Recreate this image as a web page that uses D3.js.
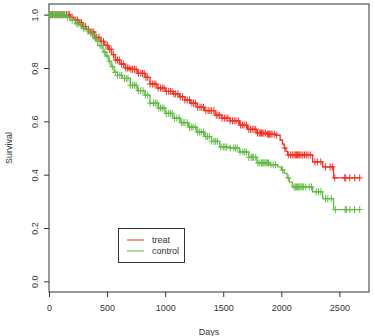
<!DOCTYPE html>
<html>
<head>
<meta charset="utf-8">
<script src="https://cdn.jsdelivr.net/npm/d3@7"></script>
<style>
  body { margin: 0; background: #fff; }
  text { font-family: "Liberation Sans", Arial, sans-serif; fill: #333; }
</style>
</head>
<body>
<script>
'use strict';

// treat: step times (days) and survival after each step
const treatTimes = [0, 185, 215, 250, 290, 320, 355, 395, 440, 475, 510, 540, 570, 610, 655, 700, 760, 830, 870, 930, 1000, 1070, 1120, 1170, 1220, 1275, 1340, 1430, 1490, 1560, 1640, 1710, 1790, 1870, 1945, 1990, 2010, 2025, 2040, 2055, 2270, 2356, 2450];
const treatSurv = [1.0, 0.99, 0.98, 0.97, 0.955, 0.945, 0.935, 0.915, 0.9, 0.885, 0.87, 0.85, 0.83, 0.815, 0.8, 0.795, 0.78, 0.765, 0.74, 0.725, 0.712, 0.703, 0.692, 0.68, 0.668, 0.653, 0.64, 0.623, 0.612, 0.602, 0.586, 0.57, 0.556, 0.552, 0.548, 0.53, 0.515, 0.5, 0.487, 0.474, 0.448, 0.429, 0.388];
const treatCensor = [10, 20, 30, 45, 60, 70, 85, 95, 110, 120, 135, 150, 165, 175, 200, 230, 245, 265, 280, 300, 315, 340, 370, 385, 410, 430, 450, 470, 490, 505, 520, 535, 555, 575, 590, 605, 625, 640, 660, 675, 690, 705, 720, 735, 750, 770, 790, 805, 820, 835, 850, 870, 890, 905, 920, 940, 960, 975, 990, 1010, 1030, 1045, 1060, 1075, 1090, 1110, 1130, 1150, 1170, 1190, 1210, 1230, 1245, 1260, 1280, 1300, 1315, 1330, 1350, 1370, 1385, 1400, 1420, 1440, 1455, 1470, 1490, 1510, 1525, 1540, 1560, 1580, 1595, 1610, 1630, 1650, 1665, 1680, 1700, 1720, 1735, 1750, 1765, 1780, 1795, 1810, 1820, 1830, 1840, 1850, 1865, 1880, 1890, 1900, 1910, 1920, 1940, 1960, 2030, 2060, 2080, 2095, 2110, 2120, 2130, 2140, 2150, 2160, 2170, 2185, 2200, 2215, 2230, 2250, 2290, 2310, 2340, 2380, 2420, 2440, 2460, 2546, 2555, 2589, 2632, 2675];

// control
const controlTimes = [0, 140, 180, 225, 280, 335, 380, 420, 465, 490, 515, 535, 560, 590, 630, 700, 760, 826, 870, 940, 1000, 1066, 1130, 1200, 1273, 1340, 1400, 1470, 1560, 1640, 1720, 1790, 1900, 1970, 2000, 2025, 2050, 2070, 2095, 2270, 2356, 2450];
const controlSurv = [1.0, 0.99, 0.98, 0.966, 0.948, 0.929, 0.91, 0.884, 0.86, 0.845, 0.825, 0.805, 0.784, 0.772, 0.761, 0.735, 0.715, 0.698, 0.668, 0.65, 0.63, 0.612, 0.595, 0.578, 0.56, 0.543, 0.525, 0.504, 0.5, 0.485, 0.465, 0.444, 0.437, 0.429, 0.418, 0.405, 0.388, 0.372, 0.354, 0.336, 0.31, 0.269];
const controlCensor = [5, 15, 25, 35, 45, 55, 65, 75, 85, 95, 105, 115, 125, 135, 160, 200, 240, 250, 270, 300, 320, 360, 375, 400, 410, 440, 455, 480, 500, 520, 545, 570, 590, 610, 625, 650, 665, 680, 700, 720, 735, 750, 770, 790, 810, 830, 850, 870, 900, 915, 930, 945, 960, 975, 990, 1010, 1030, 1045, 1060, 1080, 1100, 1120, 1140, 1155, 1170, 1190, 1210, 1225, 1240, 1260, 1280, 1295, 1310, 1330, 1350, 1365, 1380, 1400, 1420, 1435, 1450, 1480, 1500, 1515, 1530, 1560, 1590, 1605, 1620, 1645, 1670, 1685, 1700, 1720, 1740, 1750, 1760, 1780, 1800, 1815, 1830, 1840, 1850, 1860, 1870, 1880, 1890, 1910, 1930, 1950, 2010, 2060, 2110, 2120, 2130, 2140, 2150, 2160, 2170, 2180, 2190, 2210, 2240, 2260, 2300, 2320, 2340, 2380, 2400, 2430, 2465, 2550, 2560, 2590, 2630, 2675];

const xTicks = [0, 500, 1000, 1500, 2000, 2500];
const yTicks = [0.0, 0.2, 0.4, 0.6, 0.8, 1.0];
const seriesNames = ["treat", "control"];
const seriesColors = ["#ee3324", "#62bb45"];

const width = 373, height = 336;
const svg = d3.select('body').append('svg')
  .attr('width', width)
  .attr('height', height);

const x = d3.scaleLinear().domain([0, 2755]).range([49, 369]);
const y = d3.scaleLinear().domain([-0.04, 1.04]).range([292, 4]);

// box around plot region
svg.append('rect')
  .attr('x', 49).attr('y', 4)
  .attr('width', 320).attr('height', 288)
  .attr('fill', 'none')
  .attr('stroke', '#333')
  .attr('stroke-width', 1);

// axes
const xAxis = svg.append('g')
  .attr('transform', 'translate(0,292)')
  .call(d3.axisBottom(x).tickValues(xTicks).tickSize(5).tickPadding(8).tickFormat(d3.format('d')));
const yAxis = svg.append('g')
  .attr('transform', 'translate(49,0)')
  .call(d3.axisLeft(y).tickValues(yTicks).tickSize(5).tickPadding(0).tickFormat(d3.format('.1f')));
[xAxis, yAxis].forEach(function(g) {
  g.select('.domain').remove();
  g.selectAll('line').attr('stroke', '#333');
  g.selectAll('text').style('font-size', '9px').attr('fill', '#333');
});
yAxis.selectAll('.tick text')
  .attr('x', 0).attr('dy', 0)
  .attr('text-anchor', 'middle')
  .attr('transform', 'translate(-14,0) rotate(-90) translate(0,3)');

// survival step curves
function stepData(times, surv, last) {
  let pts = times.map((t, i) => [t, surv[i]]);
  pts.push([last, surv[surv.length - 1]]);
  return pts;
}
function survAt(times, surv, t) {
  let s = surv[0];
  for (let i = 0; i < times.length; i++) { if (times[i] <= t) s = surv[i]; }
  return s;
}

const line = d3.line()
  .x(d => x(d[0]))
  .y(d => y(d[1]))
  .curve(d3.curveStepAfter);

const series = [
  { times: treatTimes, surv: treatSurv, censor: treatCensor },
  { times: controlTimes, surv: controlSurv, censor: controlCensor }
];

series.forEach(function(s, i) {
  const col = seriesColors[i];
  const last = d3.max(s.censor);
  svg.append('path')
    .datum(stepData(s.times, s.surv, last))
    .attr('d', line)
    .attr('fill', 'none')
    .attr('stroke', col)
    .attr('stroke-width', 1.3);

  // censoring marks
  svg.append('g').selectAll('path')
    .data(s.censor)
    .enter()
    .append('path')
    .attr('d', function(t) {
      const cx = x(t), cy = y(survAt(s.times, s.surv, t));
      return 'M' + (cx - 3) + ',' + cy + 'H' + (cx + 3) + 'M' + cx + ',' + (cy - 3.5) + 'V' + (cy + 3.5);
    })
    .attr('stroke', col)
    .attr('stroke-width', 1);
});

// legend
const legend = svg.append('g');
legend.append('rect')
  .attr('x', 118.5).attr('y', 228.5)
  .attr('width', 66).attr('height', 34)
  .attr('fill', '#fff')
  .attr('stroke', '#333');
seriesNames.forEach(function(name, i) {
  const ly = 240 + i * 11;
  legend.append('line')
    .attr('x1', 127).attr('x2', 144)
    .attr('y1', ly).attr('y2', ly)
    .attr('stroke', seriesColors[i])
    .attr('stroke-width', 1);
  legend.append('text')
    .attr('x', 152).attr('y', ly + 3)
    .style('font-size', '9px')
    .text(name);
});

// axis labels
svg.append('text')
  .attr('x', 209).attr('y', 335)
  .attr('text-anchor', 'middle')
  .style('font-size', '9px')
  .text('Days');
svg.append('text')
  .attr('transform', 'translate(12,148) rotate(-90)')
  .attr('text-anchor', 'middle')
  .style('font-size', '9px')
  .text('Survival');
</script>
</body>
</html>
